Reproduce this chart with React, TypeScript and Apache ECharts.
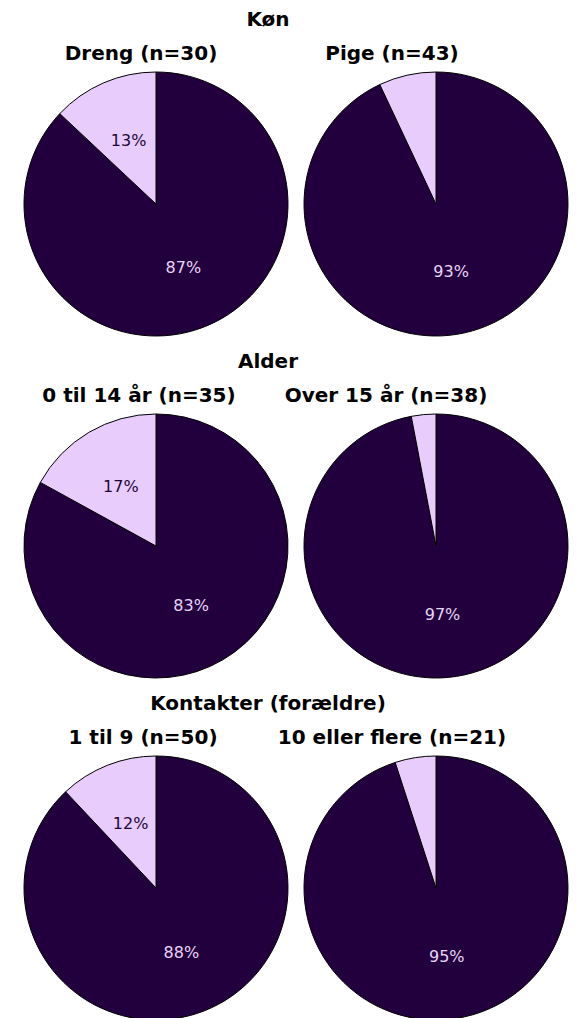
import React, { useEffect, useRef } from "react";
import * as echarts from "echarts";

const groupTitles = ["Køn", "Alder", "Kontakter (forældre)"];
const subTitles = [
  "Dreng (n=30)",
  "Pige (n=43)",
  "0 til 14 år (n=35)",
  "Over 15 år (n=38)",
  "1 til 9 (n=50)",
  "10 eller flere (n=21)",
];
const darkValues = [87, 93, 83, 97, 88, 95];
const lightValues = [13, 7, 17, 3, 12, 5];

const DARK = "#22003e";
const LIGHT = "#e8ccfc";
const FONT = "'DejaVu Sans', Verdana, sans-serif";

export default function App() {
  const ref = useRef<HTMLDivElement>(null);
  useEffect(() => {
    document.body.style.margin = "0";
    if (!ref.current) return;
    const chart = echarts.init(ref.current, undefined, { renderer: "svg" });
    const rowY = [0, 342, 684];
    const pieX = [156, 436];
    const subX = [
      [141, 392],
      [139, 386],
      [143, 392],
    ];
    const graphic: any[] = [];
    const series: any[] = [];
    groupTitles.forEach((g, r) => {
      graphic.push({
        type: "text",
        x: 268,
        y: rowY[r] + 19,
        style: {
          text: g,
          font: `bold 20px ${FONT}`,
          fill: "#000",
          textAlign: "center",
          textVerticalAlign: "middle",
          align: "center",
          verticalAlign: "middle",
        },
      });
      for (let c = 0; c < 2; c++) {
        const i = r * 2 + c;
        graphic.push({
          type: "text",
          x: subX[r][c],
          y: rowY[r] + 53,
          style: {
            text: subTitles[i],
            font: `bold 20px ${FONT}`,
            fill: "#000",
            textAlign: "center",
            textVerticalAlign: "middle",
            align: "center",
            verticalAlign: "middle",
          },
        });
        series.push({
          type: "pie",
          center: [pieX[c], rowY[r] + 204],
          radius: 132,
          startAngle: 90,
          clockwise: true,
          silent: true,
          label: {
            show: true,
            position: "inside",
            fontFamily: FONT,
            fontSize: 16,
            formatter: (p: any) => (p.value >= 10 ? p.value + "%" : ""),
          },
          labelLine: { show: false },
          itemStyle: { borderColor: "#000", borderWidth: 1 },
          data: [
            {
              value: darkValues[i],
              itemStyle: { color: DARK },
              label: { color: "#e8d4f6" },
            },
            {
              value: lightValues[i],
              itemStyle: { color: LIGHT },
              label: { color: "#1e0838" },
            },
          ],
        });
      }
    });
    chart.setOption({
      animation: false,
      backgroundColor: "#fff",
      graphic,
      series,
    });
    return () => chart.dispose();
  }, []);
  return <div ref={ref} style={{ width: 582, height: 1018 }} />;
}
